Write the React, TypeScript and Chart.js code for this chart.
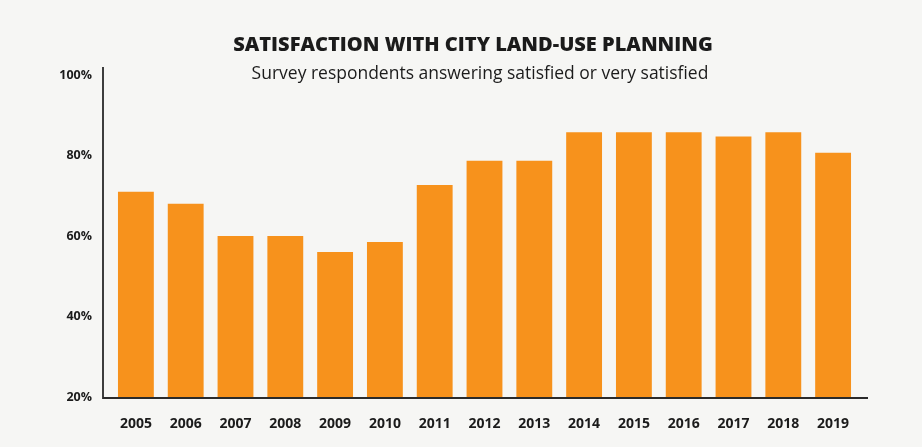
import React, { useEffect, useRef } from "react";
import { Chart, registerables } from "chart.js";

Chart.register(...registerables);

const years = ["2005","2006","2007","2008","2009","2010","2011","2012","2013","2014","2015","2016","2017","2018","2019"];
const satisfied = [71, 68, 60, 60, 56, 58.5, 72.7, 78.7, 78.7, 85.8, 85.8, 85.8, 84.7, 85.8, 80.7];
const yTicks = [20, 40, 60, 80, 100];
const titleText = "SATISFACTION WITH CITY LAND-USE PLANNING";
const subtitleText = "Survey respondents answering satisfied or very satisfied";

const FONT = "'Open Sans', Lato, sans-serif";

function fitFont(ctx: any, text: string, weight: string, target: number) {
  ctx.font = `${weight} 20px ${FONT}`;
  const w = ctx.measureText(text).width;
  const size = (20 * target) / w;
  ctx.font = `${weight} ${size}px ${FONT}`;
}

const decor = {
  id: "decor",
  beforeDraw(chart: any) {
    const { ctx, width, height } = chart;
    ctx.save();
    ctx.fillStyle = "#f6f6f4";
    ctx.fillRect(0, 0, width, height);
    ctx.restore();
  },
  afterDraw(chart: any) {
    const { ctx, chartArea } = chart;
    ctx.save();
    ctx.fillStyle = "#1b1b1b";
    ctx.textAlign = "center";
    ctx.textBaseline = "middle";
    fitFont(ctx, titleText, "800", 480);
    ctx.fillText(titleText, 473, 45);
    fitFont(ctx, subtitleText, "400", 457);
    ctx.fillText(subtitleText, 480, 74);
    ctx.strokeStyle = "#2a2a2a";
    ctx.lineWidth = 1.8;
    ctx.beginPath();
    ctx.moveTo(chartArea.left - 8, chartArea.top - 8);
    ctx.lineTo(chartArea.left - 8, chartArea.bottom + 1);
    ctx.lineTo(chartArea.right + 10, chartArea.bottom + 1);
    ctx.stroke();
    ctx.restore();
  },
};

export default function App() {
  const ref = useRef<HTMLCanvasElement>(null);
  useEffect(() => {
    const chart = new Chart(ref.current!, {
      type: "bar",
      data: {
        labels: years,
        datasets: [
          {
            data: satisfied,
            backgroundColor: "#f7921c",
            categoryPercentage: 1,
            barPercentage: 0.72,
          },
        ],
      },
      plugins: [decor],
      options: {
        animation: false,
        responsive: false,
        layout: { padding: { top: 75, right: 64, left: 0, bottom: 0 } },
        plugins: { legend: { display: false }, tooltip: { enabled: false }, title: { display: false } },
        scales: {
          x: {
            grid: { display: false, drawTicks: false },
            border: { display: false },
            ticks: { color: "#1b1b1b", padding: 19, font: { family: FONT, size: 14, weight: "bold" } },
            afterFit: (s: any) => { s.height = 50; },
          },
          y: {
            min: yTicks[0],
            max: yTicks[yTicks.length - 1],
            afterBuildTicks: (s: any) => { s.ticks = yTicks.map((v) => ({ value: v })); },
            grid: { display: false, drawTicks: false },
            border: { display: false },
            ticks: {
              color: "#1b1b1b",
              padding: 19,
              font: { family: FONT, size: 12.5, weight: "bold" },
              callback: (v: any) => `${v}%`,
            },
            afterFit: (s: any) => { s.width = 111; },
          },
        },
      },
    });
    return () => chart.destroy();
  }, []);
  return (
    <div style={{ position: "absolute", left: 0, top: 0, width: 922, height: 447 }}>
      <canvas ref={ref} width={922} height={447} />
    </div>
  );
}
